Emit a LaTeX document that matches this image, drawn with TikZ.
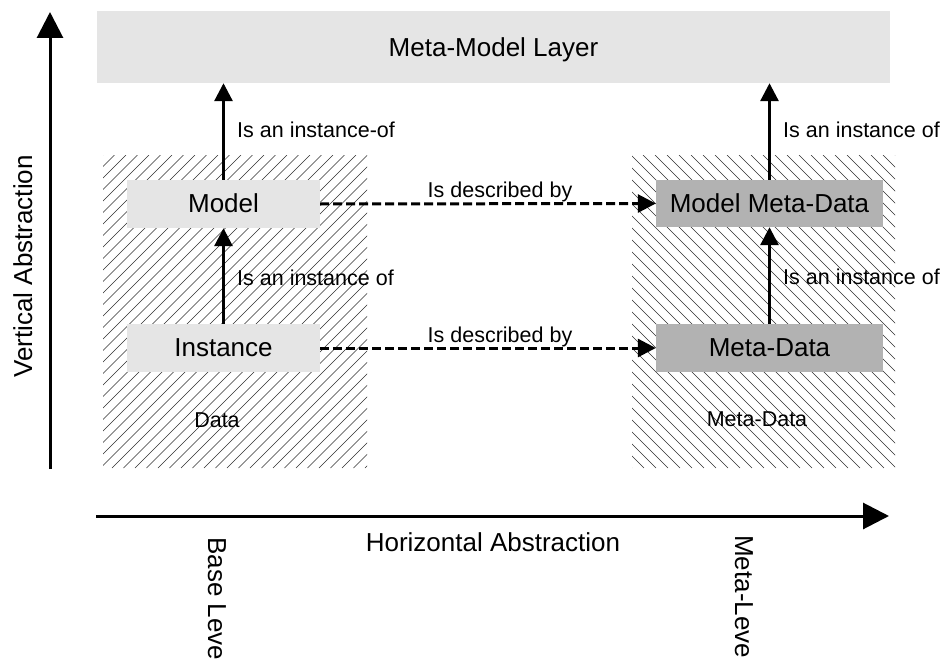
\documentclass[tikz,border=0pt]{standalone}
\usepackage{fontspec}
\setmainfont{Liberation Sans}
\usetikzlibrary{arrows.meta}
\definecolor{lightbox}{HTML}{E5E5E5}
\definecolor{darkbox}{HTML}{B2B2B2}
\definecolor{hatchcol}{HTML}{303030}
\newcommand{\bigfont}{\fontsize{26}{30}\selectfont}
\newcommand{\lblfont}{\fontsize{21.5}{25}\selectfont}
\tikzset{
  boxnode/.style={inner sep=0pt, text height=17pt, text depth=0pt, font=\bigfont},
  lightnode/.style={boxnode, fill=lightbox},
  darknode/.style={boxnode, fill=darkbox},
  lbl/.style={inner sep=0pt, font=\lblfont},
  axislbl/.style={inner sep=0pt, font=\bigfont},
  instarrow/.style={line width=3pt, -{Triangle[width=18pt,length=18pt]}},
  descarrow/.style={line width=3pt, dash pattern=on 9pt off 4pt, -{Triangle[width=18pt,length=18pt]}},
  axisarrow/.style={line width=3pt, -{Triangle[width=26pt,length=26pt]}},
  hatchline/.style={hatchcol, line width=0.6pt}
}
\begin{document}
\begin{tikzpicture}[x=1pt,y=-1pt]
\useasboundingbox (0,0) rectangle (940,661);
% hatched regions
\begin{scope}
  \clip (103,155) rectangle (367,468);
  \foreach \a in {-210,-198.5,...,370} {
    \draw[hatchline] (\a,468) -- (\a+313,155);
  }
\end{scope}
\begin{scope}
  \clip (632,155) rectangle (895,468);
  \foreach \a in {319,331,...,900} {
    \draw[hatchline] (\a,155) -- (\a+313,468);
  }
\end{scope}
% boxes
\node[lightnode, minimum width=793pt, minimum height=72pt, text height=20pt] (top) at (493.5,47) {Meta-Model Layer};
\node[lightnode, minimum width=193pt, minimum height=48pt] (model) at (223.5,204) {Model};
\node[lightnode, minimum width=193pt, minimum height=48pt] (inst) at (223.5,348) {Instance};
\node[darknode, minimum width=227pt, minimum height=47pt] (mmd) at (769.5,203.5) {Model Meta-Data};
\node[darknode, minimum width=227pt, minimum height=48pt] (md) at (769.5,348) {Meta-Data};
% connectors
\draw[instarrow] (inst) -- (model);
\draw[instarrow] (model) -- (model.north |- top.south);
\draw[instarrow] (md) -- (mmd);
\draw[instarrow] (mmd) -- (mmd.north |- top.south);
\draw[descarrow] (model.east) -- (mmd.west);
\draw[descarrow] (inst.east) -- (md.west);
% labels
\node[lbl, anchor=base west] (l1) at (237,137) {Is an instance-of};
\node[lbl, anchor=base west] (l2) at (783,137) {Is an instance of};
\node[lbl, anchor=base west] (l3) at (237,285) {Is an instance of};
\node[lbl, anchor=base west] (l4) at (783,284) {Is an instance of};
\node[lbl, anchor=base] (l5) at (500,197) {Is described by};
\node[lbl, anchor=base] (l6) at (500,342) {Is described by};
\node[lbl, anchor=base] (l7) at (217,427) {Data};
\node[lbl, anchor=base] (l8) at (757,426) {Meta-Data};
% axes
\coordinate (vbot) at (50,469);
\coordinate (vtop) at (50,12);
\coordinate (hleft) at (96,516);
\coordinate (hright) at (889,516);
\draw[axisarrow] (vbot) -- (vtop);
\draw[axisarrow] (hleft) -- (hright);
\node[axislbl, rotate=90, anchor=base] (va) at (32,266.5) {Vertical Abstraction};
\node[axislbl, anchor=base] (ha) at (493,551) {Horizontal Abstraction};
\node[axislbl, rotate=-90, anchor=base west] (bl) at (208,537) {Base Leve};
\node[axislbl, rotate=-90, anchor=base west] (ml) at (735,535) {Meta-Leve};
\end{tikzpicture}
\end{document}
